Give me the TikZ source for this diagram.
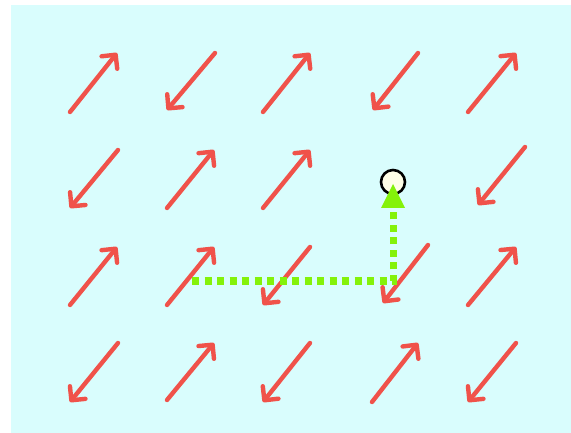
\documentclass[tikz,border=0pt]{standalone}
\usetikzlibrary{arrows.meta}
\definecolor{bgc}{HTML}{D9FDFD}
\definecolor{vec}{HTML}{F0524A}
\definecolor{lime}{HTML}{84F20A}
\tikzset{
  vecarrow/.style={vec, line width=4.4pt, line cap=round,
    -{Straight Barb[length=10pt, width=20pt, line width=4.4pt, round]}},
  pathline/.style={lime, line width=7pt, dash pattern=on 7pt off 5.5pt},
  goal/.style={circle, draw=black, line width=2.6pt, fill=white!90!yellow, minimum size=24pt, inner sep=0pt}
}
\begin{document}
\begin{tikzpicture}[x=1pt,y=-1pt]
\useasboundingbox (0,0) rectangle (571,433);
\fill[bgc] (11,5) rectangle (571,433);
% row 1
\draw[vecarrow] (70,112) -- (117,53);
\draw[vecarrow] (215,53) -- (167,110);
\draw[vecarrow] (263,112) -- (310,53);
\draw[vecarrow] (418,53) -- (373,110);
\draw[vecarrow] (468,112) -- (516,53);
% row 2
\draw[vecarrow] (118,150) -- (70,208);
\draw[vecarrow] (167,208) -- (214,150);
\draw[vecarrow] (263,208) -- (310,150);
\draw[vecarrow] (525,147) -- (478,205);
% row 3
\draw[vecarrow] (70,305) -- (117,247);
\draw[vecarrow] (167,305) -- (214,247);
\draw[vecarrow] (310,247) -- (263,305);
\draw[vecarrow] (428,245) -- (383,303);
\draw[vecarrow] (468,305) -- (516,247);
% row 4
\draw[vecarrow] (118,343) -- (70,402);
\draw[vecarrow] (167,400) -- (214,343);
\draw[vecarrow] (310,343) -- (263,402);
\draw[vecarrow] (372,402) -- (418,343);
\draw[vecarrow] (516,343) -- (468,402);
% goal and path
\node[goal] (g) at (393,182) {};
\coordinate (s) at (192,281);
\coordinate (c) at (393,281);
\coordinate (e) at (393,208);
\draw[pathline] (s) -- (c) -- (e);
\fill[lime] (381,208) -- (405,208) -- (393,184) -- cycle;
\end{tikzpicture}
\end{document}
